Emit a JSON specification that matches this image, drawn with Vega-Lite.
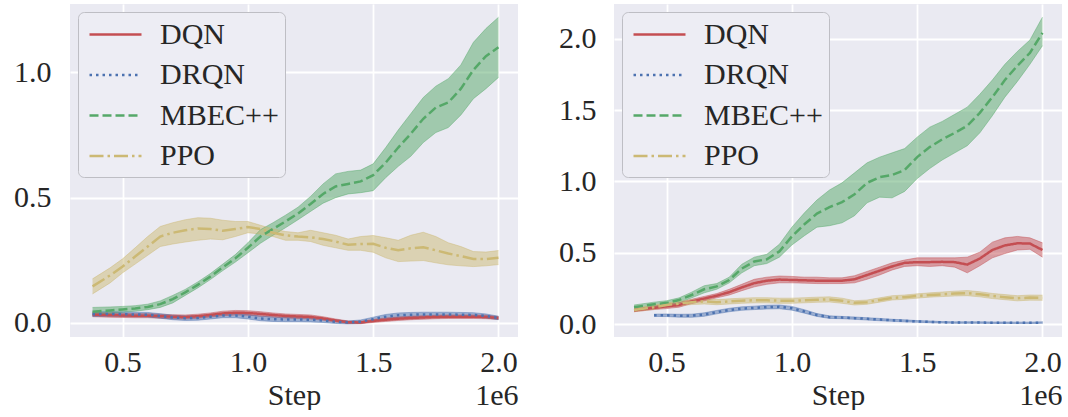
{
  "$schema": "https://vega.github.io/schema/vega-lite/v6.json",
  "background": "white",
  "padding": {"left": 13, "top": 4, "right": 0, "bottom": 0},
  "spacing": 40,
  "config": {
    "view": {"fill": "#EAEAF2", "stroke": null},
    "axis": {
      "domain": false, "ticks": false, "tickSize": 0,
      "gridColor": "#FFFFFF", "gridWidth": 1.8, "gridOpacity": 1,
      "labelFont": "Liberation Serif", "labelFontSize": 30, "labelColor": "#262626",
      "titleFont": "Liberation Serif", "titleFontSize": 30, "titleFontWeight": "normal", "titleColor": "#262626"
    },
    "legend": {
      "orient": "top-left", "offset": 8,
      "labelFont": "Liberation Serif", "labelFontSize": 30, "labelColor": "#262626",
      "symbolType": "M-1.733,0H1.733", "symbolSize": 900, "symbolStrokeWidth": 2.5,
      "symbolOffset": 15, "rowPadding": 8.5, "padding": 6, "labelOffset": 28,
      "fillColor": "#EDEDF4", "strokeColor": "#BEBEC4", "cornerRadius": 6
    }
  },
  "datasets": {
    "left": [
      {"s":"DQN","x":0.38,"m":0.033,"lo":0.025,"hi":0.041},
      {"s":"DQN","x":0.45,"m":0.031,"lo":0.023,"hi":0.039},
      {"s":"DQN","x":0.5,"m":0.030,"lo":0.022,"hi":0.038},
      {"s":"DQN","x":0.55,"m":0.029,"lo":0.021,"hi":0.037},
      {"s":"DQN","x":0.6,"m":0.029,"lo":0.021,"hi":0.037},
      {"s":"DQN","x":0.65,"m":0.027,"lo":0.019,"hi":0.035},
      {"s":"DQN","x":0.7,"m":0.025,"lo":0.017,"hi":0.033},
      {"s":"DQN","x":0.75,"m":0.024,"lo":0.016,"hi":0.032},
      {"s":"DQN","x":0.8,"m":0.027,"lo":0.019,"hi":0.035},
      {"s":"DQN","x":0.85,"m":0.032,"lo":0.024,"hi":0.040},
      {"s":"DQN","x":0.9,"m":0.038,"lo":0.029,"hi":0.047},
      {"s":"DQN","x":0.95,"m":0.041,"lo":0.032,"hi":0.050},
      {"s":"DQN","x":1.0,"m":0.040,"lo":0.031,"hi":0.049},
      {"s":"DQN","x":1.05,"m":0.036,"lo":0.027,"hi":0.045},
      {"s":"DQN","x":1.1,"m":0.032,"lo":0.024,"hi":0.040},
      {"s":"DQN","x":1.15,"m":0.028,"lo":0.020,"hi":0.036},
      {"s":"DQN","x":1.2,"m":0.026,"lo":0.018,"hi":0.034},
      {"s":"DQN","x":1.25,"m":0.024,"lo":0.016,"hi":0.032},
      {"s":"DQN","x":1.3,"m":0.018,"lo":0.011,"hi":0.025},
      {"s":"DQN","x":1.35,"m":0.010,"lo":0.004,"hi":0.016},
      {"s":"DQN","x":1.4,"m":0.003,"lo":-0.002,"hi":0.008},
      {"s":"DQN","x":1.45,"m":0.002,"lo":-0.003,"hi":0.007},
      {"s":"DQN","x":1.5,"m":0.008,"lo":0.002,"hi":0.014},
      {"s":"DQN","x":1.55,"m":0.013,"lo":0.006,"hi":0.020},
      {"s":"DQN","x":1.6,"m":0.017,"lo":0.010,"hi":0.024},
      {"s":"DQN","x":1.65,"m":0.020,"lo":0.013,"hi":0.027},
      {"s":"DQN","x":1.7,"m":0.022,"lo":0.015,"hi":0.029},
      {"s":"DQN","x":1.75,"m":0.024,"lo":0.017,"hi":0.031},
      {"s":"DQN","x":1.8,"m":0.025,"lo":0.018,"hi":0.032},
      {"s":"DQN","x":1.85,"m":0.025,"lo":0.018,"hi":0.032},
      {"s":"DQN","x":1.9,"m":0.025,"lo":0.018,"hi":0.032},
      {"s":"DQN","x":1.95,"m":0.024,"lo":0.017,"hi":0.031},
      {"s":"DQN","x":2.0,"m":0.020,"lo":0.014,"hi":0.026},
      {"s":"DRQN","x":0.38,"m":0.035,"lo":0.026,"hi":0.044},
      {"s":"DRQN","x":0.45,"m":0.036,"lo":0.027,"hi":0.045},
      {"s":"DRQN","x":0.5,"m":0.035,"lo":0.026,"hi":0.044},
      {"s":"DRQN","x":0.55,"m":0.034,"lo":0.025,"hi":0.043},
      {"s":"DRQN","x":0.6,"m":0.033,"lo":0.024,"hi":0.042},
      {"s":"DRQN","x":0.65,"m":0.028,"lo":0.019,"hi":0.037},
      {"s":"DRQN","x":0.7,"m":0.022,"lo":0.013,"hi":0.031},
      {"s":"DRQN","x":0.75,"m":0.019,"lo":0.010,"hi":0.028},
      {"s":"DRQN","x":0.8,"m":0.020,"lo":0.011,"hi":0.029},
      {"s":"DRQN","x":0.85,"m":0.025,"lo":0.016,"hi":0.034},
      {"s":"DRQN","x":0.9,"m":0.030,"lo":0.021,"hi":0.039},
      {"s":"DRQN","x":0.95,"m":0.030,"lo":0.021,"hi":0.039},
      {"s":"DRQN","x":1.0,"m":0.025,"lo":0.016,"hi":0.034},
      {"s":"DRQN","x":1.05,"m":0.018,"lo":0.009,"hi":0.027},
      {"s":"DRQN","x":1.1,"m":0.015,"lo":0.006,"hi":0.024},
      {"s":"DRQN","x":1.15,"m":0.014,"lo":0.005,"hi":0.023},
      {"s":"DRQN","x":1.2,"m":0.014,"lo":0.005,"hi":0.023},
      {"s":"DRQN","x":1.25,"m":0.013,"lo":0.004,"hi":0.022},
      {"s":"DRQN","x":1.3,"m":0.010,"lo":0.002,"hi":0.018},
      {"s":"DRQN","x":1.35,"m":0.005,"lo":-0.002,"hi":0.012},
      {"s":"DRQN","x":1.4,"m":0.002,"lo":-0.004,"hi":0.008},
      {"s":"DRQN","x":1.45,"m":0.005,"lo":-0.002,"hi":0.012},
      {"s":"DRQN","x":1.5,"m":0.015,"lo":0.007,"hi":0.023},
      {"s":"DRQN","x":1.55,"m":0.025,"lo":0.016,"hi":0.034},
      {"s":"DRQN","x":1.6,"m":0.031,"lo":0.022,"hi":0.040},
      {"s":"DRQN","x":1.65,"m":0.033,"lo":0.024,"hi":0.042},
      {"s":"DRQN","x":1.7,"m":0.034,"lo":0.025,"hi":0.043},
      {"s":"DRQN","x":1.75,"m":0.034,"lo":0.025,"hi":0.043},
      {"s":"DRQN","x":1.8,"m":0.034,"lo":0.025,"hi":0.043},
      {"s":"DRQN","x":1.85,"m":0.033,"lo":0.024,"hi":0.042},
      {"s":"DRQN","x":1.9,"m":0.032,"lo":0.023,"hi":0.041},
      {"s":"DRQN","x":1.95,"m":0.028,"lo":0.020,"hi":0.036},
      {"s":"DRQN","x":2.0,"m":0.020,"lo":0.013,"hi":0.027},
      {"s":"MBEC++","x":0.38,"m":0.045,"lo":0.032,"hi":0.062},
      {"s":"MBEC++","x":0.45,"m":0.050,"lo":0.038,"hi":0.064},
      {"s":"MBEC++","x":0.5,"m":0.054,"lo":0.043,"hi":0.066},
      {"s":"MBEC++","x":0.55,"m":0.058,"lo":0.047,"hi":0.069},
      {"s":"MBEC++","x":0.6,"m":0.064,"lo":0.053,"hi":0.075},
      {"s":"MBEC++","x":0.65,"m":0.075,"lo":0.062,"hi":0.088},
      {"s":"MBEC++","x":0.7,"m":0.095,"lo":0.080,"hi":0.110},
      {"s":"MBEC++","x":0.75,"m":0.122,"lo":0.110,"hi":0.134},
      {"s":"MBEC++","x":0.8,"m":0.152,"lo":0.140,"hi":0.164},
      {"s":"MBEC++","x":0.85,"m":0.185,"lo":0.173,"hi":0.197},
      {"s":"MBEC++","x":0.9,"m":0.222,"lo":0.209,"hi":0.235},
      {"s":"MBEC++","x":0.95,"m":0.258,"lo":0.243,"hi":0.273},
      {"s":"MBEC++","x":1.0,"m":0.300,"lo":0.280,"hi":0.320},
      {"s":"MBEC++","x":1.05,"m":0.345,"lo":0.318,"hi":0.372},
      {"s":"MBEC++","x":1.1,"m":0.375,"lo":0.350,"hi":0.400},
      {"s":"MBEC++","x":1.15,"m":0.405,"lo":0.380,"hi":0.430},
      {"s":"MBEC++","x":1.2,"m":0.437,"lo":0.412,"hi":0.462},
      {"s":"MBEC++","x":1.25,"m":0.475,"lo":0.445,"hi":0.505},
      {"s":"MBEC++","x":1.3,"m":0.515,"lo":0.478,"hi":0.555},
      {"s":"MBEC++","x":1.35,"m":0.545,"lo":0.500,"hi":0.595},
      {"s":"MBEC++","x":1.4,"m":0.555,"lo":0.515,"hi":0.605},
      {"s":"MBEC++","x":1.45,"m":0.565,"lo":0.520,"hi":0.610},
      {"s":"MBEC++","x":1.5,"m":0.590,"lo":0.528,"hi":0.635},
      {"s":"MBEC++","x":1.55,"m":0.640,"lo":0.580,"hi":0.700},
      {"s":"MBEC++","x":1.6,"m":0.700,"lo":0.625,"hi":0.770},
      {"s":"MBEC++","x":1.65,"m":0.755,"lo":0.665,"hi":0.835},
      {"s":"MBEC++","x":1.7,"m":0.815,"lo":0.720,"hi":0.900},
      {"s":"MBEC++","x":1.75,"m":0.860,"lo":0.760,"hi":0.945},
      {"s":"MBEC++","x":1.8,"m":0.880,"lo":0.780,"hi":0.975},
      {"s":"MBEC++","x":1.85,"m":0.935,"lo":0.830,"hi":1.030},
      {"s":"MBEC++","x":1.9,"m":1.010,"lo":0.895,"hi":1.120},
      {"s":"MBEC++","x":1.95,"m":1.065,"lo":0.935,"hi":1.175},
      {"s":"MBEC++","x":2.0,"m":1.100,"lo":0.980,"hi":1.220},
      {"s":"PPO","x":0.38,"m":0.146,"lo":0.116,"hi":0.176},
      {"s":"PPO","x":0.45,"m":0.190,"lo":0.160,"hi":0.220},
      {"s":"PPO","x":0.5,"m":0.225,"lo":0.200,"hi":0.256},
      {"s":"PPO","x":0.55,"m":0.265,"lo":0.235,"hi":0.300},
      {"s":"PPO","x":0.6,"m":0.305,"lo":0.270,"hi":0.345},
      {"s":"PPO","x":0.65,"m":0.345,"lo":0.305,"hi":0.385},
      {"s":"PPO","x":0.7,"m":0.360,"lo":0.315,"hi":0.400},
      {"s":"PPO","x":0.75,"m":0.370,"lo":0.323,"hi":0.412},
      {"s":"PPO","x":0.8,"m":0.377,"lo":0.330,"hi":0.420},
      {"s":"PPO","x":0.85,"m":0.375,"lo":0.335,"hi":0.418},
      {"s":"PPO","x":0.9,"m":0.368,"lo":0.332,"hi":0.410},
      {"s":"PPO","x":0.95,"m":0.375,"lo":0.345,"hi":0.405},
      {"s":"PPO","x":1.0,"m":0.383,"lo":0.360,"hi":0.405},
      {"s":"PPO","x":1.05,"m":0.375,"lo":0.355,"hi":0.390},
      {"s":"PPO","x":1.1,"m":0.360,"lo":0.345,"hi":0.375},
      {"s":"PPO","x":1.15,"m":0.350,"lo":0.330,"hi":0.365},
      {"s":"PPO","x":1.2,"m":0.345,"lo":0.330,"hi":0.360},
      {"s":"PPO","x":1.25,"m":0.342,"lo":0.325,"hi":0.370},
      {"s":"PPO","x":1.3,"m":0.335,"lo":0.310,"hi":0.360},
      {"s":"PPO","x":1.35,"m":0.325,"lo":0.300,"hi":0.350},
      {"s":"PPO","x":1.4,"m":0.312,"lo":0.290,"hi":0.335},
      {"s":"PPO","x":1.45,"m":0.315,"lo":0.290,"hi":0.345},
      {"s":"PPO","x":1.5,"m":0.316,"lo":0.282,"hi":0.349},
      {"s":"PPO","x":1.55,"m":0.300,"lo":0.260,"hi":0.340},
      {"s":"PPO","x":1.6,"m":0.290,"lo":0.245,"hi":0.330},
      {"s":"PPO","x":1.65,"m":0.298,"lo":0.247,"hi":0.350},
      {"s":"PPO","x":1.7,"m":0.302,"lo":0.249,"hi":0.362},
      {"s":"PPO","x":1.75,"m":0.290,"lo":0.240,"hi":0.345},
      {"s":"PPO","x":1.8,"m":0.277,"lo":0.232,"hi":0.320},
      {"s":"PPO","x":1.85,"m":0.267,"lo":0.228,"hi":0.305},
      {"s":"PPO","x":1.9,"m":0.255,"lo":0.225,"hi":0.285},
      {"s":"PPO","x":1.95,"m":0.255,"lo":0.228,"hi":0.283},
      {"s":"PPO","x":2.0,"m":0.260,"lo":0.233,"hi":0.289}
    ],
    "right": [
      {"s":"DQN","x":0.37,"m":0.098,"lo":0.088,"hi":0.108},
      {"s":"DQN","x":0.45,"m":0.115,"lo":0.103,"hi":0.127},
      {"s":"DQN","x":0.5,"m":0.125,"lo":0.110,"hi":0.140},
      {"s":"DQN","x":0.55,"m":0.135,"lo":0.120,"hi":0.150},
      {"s":"DQN","x":0.6,"m":0.160,"lo":0.145,"hi":0.175},
      {"s":"DQN","x":0.65,"m":0.180,"lo":0.165,"hi":0.195},
      {"s":"DQN","x":0.7,"m":0.200,"lo":0.185,"hi":0.215},
      {"s":"DQN","x":0.75,"m":0.225,"lo":0.205,"hi":0.245},
      {"s":"DQN","x":0.8,"m":0.258,"lo":0.235,"hi":0.280},
      {"s":"DQN","x":0.85,"m":0.288,"lo":0.262,"hi":0.315},
      {"s":"DQN","x":0.9,"m":0.305,"lo":0.280,"hi":0.330},
      {"s":"DQN","x":0.95,"m":0.313,"lo":0.290,"hi":0.338},
      {"s":"DQN","x":1.0,"m":0.310,"lo":0.290,"hi":0.335},
      {"s":"DQN","x":1.05,"m":0.308,"lo":0.288,"hi":0.330},
      {"s":"DQN","x":1.1,"m":0.305,"lo":0.285,"hi":0.330},
      {"s":"DQN","x":1.15,"m":0.305,"lo":0.285,"hi":0.325},
      {"s":"DQN","x":1.2,"m":0.305,"lo":0.285,"hi":0.325},
      {"s":"DQN","x":1.25,"m":0.315,"lo":0.290,"hi":0.340},
      {"s":"DQN","x":1.3,"m":0.345,"lo":0.315,"hi":0.370},
      {"s":"DQN","x":1.35,"m":0.375,"lo":0.345,"hi":0.400},
      {"s":"DQN","x":1.4,"m":0.405,"lo":0.380,"hi":0.430},
      {"s":"DQN","x":1.45,"m":0.430,"lo":0.405,"hi":0.450},
      {"s":"DQN","x":1.5,"m":0.435,"lo":0.410,"hi":0.465},
      {"s":"DQN","x":1.55,"m":0.435,"lo":0.405,"hi":0.465},
      {"s":"DQN","x":1.6,"m":0.437,"lo":0.410,"hi":0.465},
      {"s":"DQN","x":1.65,"m":0.435,"lo":0.400,"hi":0.465},
      {"s":"DQN","x":1.7,"m":0.418,"lo":0.360,"hi":0.470},
      {"s":"DQN","x":1.75,"m":0.460,"lo":0.410,"hi":0.505},
      {"s":"DQN","x":1.8,"m":0.520,"lo":0.465,"hi":0.575},
      {"s":"DQN","x":1.85,"m":0.552,"lo":0.495,"hi":0.605},
      {"s":"DQN","x":1.9,"m":0.567,"lo":0.520,"hi":0.615},
      {"s":"DQN","x":1.95,"m":0.565,"lo":0.525,"hi":0.605},
      {"s":"DQN","x":2.0,"m":0.520,"lo":0.470,"hi":0.570},
      {"s":"DRQN","x":0.45,"m":0.063,"lo":0.055,"hi":0.071},
      {"s":"DRQN","x":0.5,"m":0.063,"lo":0.054,"hi":0.072},
      {"s":"DRQN","x":0.55,"m":0.060,"lo":0.050,"hi":0.070},
      {"s":"DRQN","x":0.6,"m":0.060,"lo":0.049,"hi":0.071},
      {"s":"DRQN","x":0.65,"m":0.068,"lo":0.056,"hi":0.080},
      {"s":"DRQN","x":0.7,"m":0.085,"lo":0.073,"hi":0.097},
      {"s":"DRQN","x":0.75,"m":0.100,"lo":0.088,"hi":0.112},
      {"s":"DRQN","x":0.8,"m":0.110,"lo":0.098,"hi":0.122},
      {"s":"DRQN","x":0.85,"m":0.115,"lo":0.103,"hi":0.127},
      {"s":"DRQN","x":0.9,"m":0.120,"lo":0.107,"hi":0.133},
      {"s":"DRQN","x":0.95,"m":0.122,"lo":0.109,"hi":0.135},
      {"s":"DRQN","x":1.0,"m":0.112,"lo":0.099,"hi":0.125},
      {"s":"DRQN","x":1.05,"m":0.090,"lo":0.078,"hi":0.102},
      {"s":"DRQN","x":1.1,"m":0.065,"lo":0.055,"hi":0.075},
      {"s":"DRQN","x":1.15,"m":0.050,"lo":0.041,"hi":0.059},
      {"s":"DRQN","x":1.2,"m":0.047,"lo":0.039,"hi":0.055},
      {"s":"DRQN","x":1.25,"m":0.043,"lo":0.035,"hi":0.051},
      {"s":"DRQN","x":1.3,"m":0.038,"lo":0.030,"hi":0.046},
      {"s":"DRQN","x":1.35,"m":0.033,"lo":0.025,"hi":0.041},
      {"s":"DRQN","x":1.4,"m":0.028,"lo":0.021,"hi":0.035},
      {"s":"DRQN","x":1.45,"m":0.024,"lo":0.017,"hi":0.031},
      {"s":"DRQN","x":1.5,"m":0.020,"lo":0.014,"hi":0.026},
      {"s":"DRQN","x":1.55,"m":0.017,"lo":0.011,"hi":0.023},
      {"s":"DRQN","x":1.6,"m":0.014,"lo":0.009,"hi":0.019},
      {"s":"DRQN","x":1.65,"m":0.012,"lo":0.007,"hi":0.017},
      {"s":"DRQN","x":1.7,"m":0.012,"lo":0.007,"hi":0.017},
      {"s":"DRQN","x":1.75,"m":0.012,"lo":0.007,"hi":0.017},
      {"s":"DRQN","x":1.8,"m":0.011,"lo":0.006,"hi":0.016},
      {"s":"DRQN","x":1.85,"m":0.011,"lo":0.006,"hi":0.016},
      {"s":"DRQN","x":1.9,"m":0.010,"lo":0.005,"hi":0.015},
      {"s":"DRQN","x":1.95,"m":0.010,"lo":0.005,"hi":0.015},
      {"s":"DRQN","x":2.0,"m":0.012,"lo":0.007,"hi":0.017},
      {"s":"MBEC++","x":0.37,"m":0.120,"lo":0.105,"hi":0.135},
      {"s":"MBEC++","x":0.45,"m":0.140,"lo":0.125,"hi":0.155},
      {"s":"MBEC++","x":0.5,"m":0.150,"lo":0.130,"hi":0.165},
      {"s":"MBEC++","x":0.55,"m":0.170,"lo":0.150,"hi":0.185},
      {"s":"MBEC++","x":0.6,"m":0.205,"lo":0.185,"hi":0.225},
      {"s":"MBEC++","x":0.65,"m":0.245,"lo":0.220,"hi":0.270},
      {"s":"MBEC++","x":0.7,"m":0.265,"lo":0.245,"hi":0.285},
      {"s":"MBEC++","x":0.75,"m":0.310,"lo":0.290,"hi":0.330},
      {"s":"MBEC++","x":0.8,"m":0.390,"lo":0.360,"hi":0.420},
      {"s":"MBEC++","x":0.85,"m":0.440,"lo":0.410,"hi":0.470},
      {"s":"MBEC++","x":0.9,"m":0.455,"lo":0.425,"hi":0.490},
      {"s":"MBEC++","x":0.95,"m":0.510,"lo":0.470,"hi":0.560},
      {"s":"MBEC++","x":1.0,"m":0.615,"lo":0.555,"hi":0.680},
      {"s":"MBEC++","x":1.05,"m":0.700,"lo":0.620,"hi":0.780},
      {"s":"MBEC++","x":1.1,"m":0.775,"lo":0.680,"hi":0.870},
      {"s":"MBEC++","x":1.15,"m":0.820,"lo":0.690,"hi":0.940},
      {"s":"MBEC++","x":1.2,"m":0.855,"lo":0.710,"hi":0.990},
      {"s":"MBEC++","x":1.25,"m":0.910,"lo":0.760,"hi":1.060},
      {"s":"MBEC++","x":1.3,"m":0.990,"lo":0.850,"hi":1.130},
      {"s":"MBEC++","x":1.35,"m":1.030,"lo":0.890,"hi":1.170},
      {"s":"MBEC++","x":1.4,"m":1.045,"lo":0.885,"hi":1.200},
      {"s":"MBEC++","x":1.45,"m":1.080,"lo":0.930,"hi":1.230},
      {"s":"MBEC++","x":1.5,"m":1.170,"lo":1.020,"hi":1.310},
      {"s":"MBEC++","x":1.55,"m":1.240,"lo":1.090,"hi":1.380},
      {"s":"MBEC++","x":1.6,"m":1.295,"lo":1.150,"hi":1.420},
      {"s":"MBEC++","x":1.65,"m":1.340,"lo":1.200,"hi":1.470},
      {"s":"MBEC++","x":1.7,"m":1.390,"lo":1.250,"hi":1.520},
      {"s":"MBEC++","x":1.75,"m":1.480,"lo":1.340,"hi":1.610},
      {"s":"MBEC++","x":1.8,"m":1.590,"lo":1.460,"hi":1.710},
      {"s":"MBEC++","x":1.85,"m":1.710,"lo":1.590,"hi":1.820},
      {"s":"MBEC++","x":1.9,"m":1.810,"lo":1.700,"hi":1.910},
      {"s":"MBEC++","x":1.95,"m":1.900,"lo":1.820,"hi":1.990},
      {"s":"MBEC++","x":2.0,"m":2.040,"lo":1.950,"hi":2.150},
      {"s":"PPO","x":0.37,"m":0.100,"lo":0.088,"hi":0.112},
      {"s":"PPO","x":0.45,"m":0.120,"lo":0.105,"hi":0.135},
      {"s":"PPO","x":0.5,"m":0.135,"lo":0.120,"hi":0.150},
      {"s":"PPO","x":0.55,"m":0.145,"lo":0.130,"hi":0.160},
      {"s":"PPO","x":0.6,"m":0.155,"lo":0.138,"hi":0.172},
      {"s":"PPO","x":0.65,"m":0.160,"lo":0.142,"hi":0.178},
      {"s":"PPO","x":0.7,"m":0.155,"lo":0.137,"hi":0.173},
      {"s":"PPO","x":0.75,"m":0.160,"lo":0.142,"hi":0.178},
      {"s":"PPO","x":0.8,"m":0.165,"lo":0.147,"hi":0.183},
      {"s":"PPO","x":0.85,"m":0.168,"lo":0.150,"hi":0.186},
      {"s":"PPO","x":0.9,"m":0.168,"lo":0.150,"hi":0.186},
      {"s":"PPO","x":0.95,"m":0.165,"lo":0.147,"hi":0.183},
      {"s":"PPO","x":1.0,"m":0.165,"lo":0.147,"hi":0.183},
      {"s":"PPO","x":1.05,"m":0.168,"lo":0.150,"hi":0.186},
      {"s":"PPO","x":1.1,"m":0.172,"lo":0.154,"hi":0.190},
      {"s":"PPO","x":1.15,"m":0.174,"lo":0.156,"hi":0.192},
      {"s":"PPO","x":1.2,"m":0.165,"lo":0.147,"hi":0.183},
      {"s":"PPO","x":1.25,"m":0.150,"lo":0.135,"hi":0.165},
      {"s":"PPO","x":1.3,"m":0.155,"lo":0.140,"hi":0.170},
      {"s":"PPO","x":1.35,"m":0.170,"lo":0.155,"hi":0.185},
      {"s":"PPO","x":1.4,"m":0.185,"lo":0.170,"hi":0.200},
      {"s":"PPO","x":1.45,"m":0.190,"lo":0.175,"hi":0.205},
      {"s":"PPO","x":1.5,"m":0.198,"lo":0.183,"hi":0.213},
      {"s":"PPO","x":1.55,"m":0.205,"lo":0.190,"hi":0.220},
      {"s":"PPO","x":1.6,"m":0.210,"lo":0.194,"hi":0.226},
      {"s":"PPO","x":1.65,"m":0.215,"lo":0.198,"hi":0.232},
      {"s":"PPO","x":1.7,"m":0.218,"lo":0.200,"hi":0.236},
      {"s":"PPO","x":1.75,"m":0.210,"lo":0.192,"hi":0.228},
      {"s":"PPO","x":1.8,"m":0.198,"lo":0.180,"hi":0.216},
      {"s":"PPO","x":1.85,"m":0.190,"lo":0.172,"hi":0.208},
      {"s":"PPO","x":1.9,"m":0.182,"lo":0.164,"hi":0.200},
      {"s":"PPO","x":1.95,"m":0.187,"lo":0.169,"hi":0.205},
      {"s":"PPO","x":2.0,"m":0.186,"lo":0.168,"hi":0.204}
    ]
  },
  "hconcat": [
    {
      "width": 448, "height": 333,
      "data": {"name": "left"},
      "layer": [
        {
          "mark": {"type": "area", "fillOpacity": 0.5},
          "encoding": {
            "x": {"field": "x", "type": "quantitative",
                  "scale": {"domain": [0.29, 2.078], "nice": false, "zero": false},
                  "axis": {"values": [0.5, 1.0, 1.5, 2.0], "format": ".1f", "labelPadding": 10, "title": "Step", "titlePadding": 3, "grid": true}},
            "y": {"field": "lo", "type": "quantitative",
                  "scale": {"domain": [-0.056, 1.273], "nice": false, "zero": false},
                  "axis": {"values": [0, 0.5, 1.0], "format": ".1f", "labelPadding": 19, "title": null, "grid": true}},
            "y2": {"field": "hi"},
            "color": {"field": "s", "type": "nominal",
                      "scale": {"domain": ["DQN", "DRQN", "MBEC++", "PPO"], "range": ["#C44E52", "#4C72B0", "#55A868", "#CCB974"]}}
          }
        },
        {
          "mark": {"type": "line", "strokeWidth": 1, "strokeOpacity": 0.45},
          "encoding": {
            "x": {"field": "x", "type": "quantitative", "axis": null},
            "y": {"field": "lo", "type": "quantitative"},
            "color": {"field": "s", "type": "nominal"}
          }
        },
        {
          "mark": {"type": "line", "strokeWidth": 1, "strokeOpacity": 0.45},
          "encoding": {
            "x": {"field": "x", "type": "quantitative", "axis": null},
            "y": {"field": "hi", "type": "quantitative"},
            "color": {"field": "s", "type": "nominal"}
          }
        },
        {
          "mark": {"type": "line", "strokeWidth": 2.5},
          "encoding": {
            "x": {"field": "x", "type": "quantitative",
                  "axis": {"orient": "bottom", "labels": false, "grid": false, "title": "1e6", "titleAnchor": "end", "titlePadding": 43}},
            "y": {"field": "m", "type": "quantitative", "axis": {"title": null}},
            "color": {"field": "s", "type": "nominal",
                      "legend": {"title": null, "symbolFillColor": "transparent", "symbolOpacity": 1}},
            "strokeDash": {"field": "s", "type": "nominal",
                           "scale": {"domain": ["DQN", "DRQN", "MBEC++", "PPO"], "range": [[1, 0], [2.5, 4], [9, 4], [14, 4, 2.5, 4]]},
                           "legend": {"title": null}}
          }
        }
      ],
      "resolve": {"axis": {"x": "independent"}}
    },
    {
      "width": 448, "height": 333,
      "data": {"name": "right"},
      "layer": [
        {
          "mark": {"type": "area", "fillOpacity": 0.5},
          "encoding": {
            "x": {"field": "x", "type": "quantitative",
                  "scale": {"domain": [0.29, 2.078], "nice": false, "zero": false},
                  "axis": {"values": [0.5, 1.0, 1.5, 2.0], "format": ".1f", "labelPadding": 10, "title": "Step", "titlePadding": 3, "grid": true}},
            "y": {"field": "lo", "type": "quantitative",
                  "scale": {"domain": [-0.089, 2.242], "nice": false, "zero": false},
                  "axis": {"values": [0, 0.5, 1.0, 1.5, 2.0], "format": ".1f", "labelPadding": 18, "title": null, "grid": true}},
            "y2": {"field": "hi"},
            "color": {"field": "s", "type": "nominal",
                      "scale": {"domain": ["DQN", "DRQN", "MBEC++", "PPO"], "range": ["#C44E52", "#4C72B0", "#55A868", "#CCB974"]}}
          }
        },
        {
          "mark": {"type": "line", "strokeWidth": 1, "strokeOpacity": 0.45},
          "encoding": {
            "x": {"field": "x", "type": "quantitative", "axis": null},
            "y": {"field": "lo", "type": "quantitative"},
            "color": {"field": "s", "type": "nominal"}
          }
        },
        {
          "mark": {"type": "line", "strokeWidth": 1, "strokeOpacity": 0.45},
          "encoding": {
            "x": {"field": "x", "type": "quantitative", "axis": null},
            "y": {"field": "hi", "type": "quantitative"},
            "color": {"field": "s", "type": "nominal"}
          }
        },
        {
          "mark": {"type": "line", "strokeWidth": 2.5},
          "encoding": {
            "x": {"field": "x", "type": "quantitative",
                  "axis": {"orient": "bottom", "labels": false, "grid": false, "title": "1e6", "titleAnchor": "end", "titlePadding": 43}},
            "y": {"field": "m", "type": "quantitative", "axis": {"title": null}},
            "color": {"field": "s", "type": "nominal",
                      "legend": {"title": null, "symbolFillColor": "transparent", "symbolOpacity": 1}},
            "strokeDash": {"field": "s", "type": "nominal",
                           "scale": {"domain": ["DQN", "DRQN", "MBEC++", "PPO"], "range": [[1, 0], [2.5, 4], [9, 4], [14, 4, 2.5, 4]]},
                           "legend": {"title": null}}
          }
        }
      ],
      "resolve": {"axis": {"x": "independent"}}
    }
  ],
  "resolve": {
    "scale": {"x": "independent", "y": "independent", "color": "independent", "strokeDash": "independent"},
    "legend": {"color": "independent", "strokeDash": "independent"}
  }
}
